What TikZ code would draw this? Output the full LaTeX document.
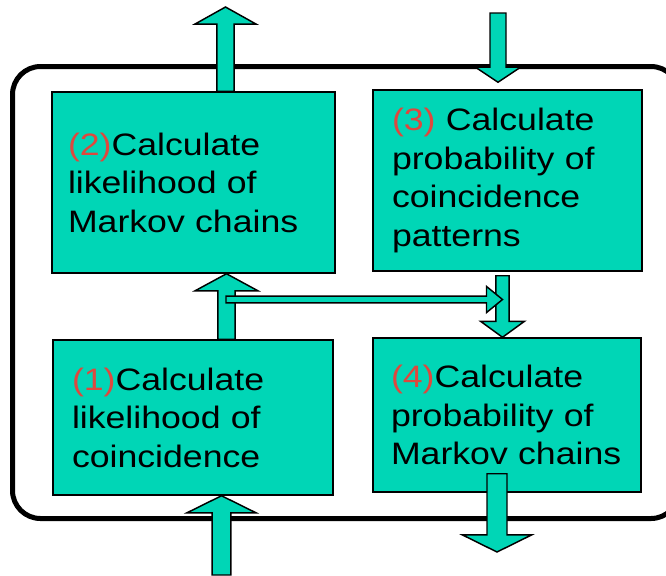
\documentclass[tikz,border=0pt]{standalone}
\usepackage{fontspec}
\setmainfont[FakeStretch=1.15]{Liberation Sans}
\usepackage{tikz}
\usetikzlibrary{calc}
\definecolor{boxteal}{RGB}{0,214,182}
\definecolor{numred}{RGB}{222,72,62}
\tikzset{
    stage/.style={draw, line width=1.1pt, fill=boxteal, align=left, inner ysep=0pt,
        font=\fontsize{23.25pt}{28.9pt}\selectfont},
    blockarrow/.style={draw, line width=1.1pt, fill=boxteal, line join=miter},
    frame/.style={draw, line width=3.75pt, rounded corners=21pt}
}
\newcommand{\stagenum}[1]{\textcolor{numred}{#1}}
\newcommand{\fatarrow}[5]{%
    \coordinate (fa-h) at ($(#2)!#5!(#1)$);
    \path[blockarrow] ($(#1)!#3!90:(#2)$) -- ($(fa-h)!#3!90:(#2)$) -- ($(fa-h)!#4!90:(#2)$)
        -- (#2) -- ($(fa-h)!#4!-90:(#2)$) -- ($(fa-h)!#3!-90:(#2)$) -- ($(#1)!#3!-90:(#2)$) -- cycle;
}

\begin{document}
\begin{tikzpicture}[x=0.75pt, y=-0.75pt]
    \useasboundingbox (0,0) rectangle (666,575);
    \clip (0,0) rectangle (666,575);
    \draw[frame] (12.5,66.5) rectangle (679,518.5);
    \node[stage, minimum width=212.25pt, minimum height=135.75pt, text width=188.25pt, inner xsep=12pt] (box2) at (193.5,182.5)
        {\stagenum{(2)}Calculate\\likelihood of\\Markov chains};
    \node[stage, minimum width=201.75pt, minimum height=135.75pt, text width=173.25pt, inner xsep=14.25pt] (box3) at (507.5,180.5)
        {\stagenum{(3)} Calculate\\probability of\\coincidence\\patterns};
    \node[stage, minimum width=210pt, minimum height=116.25pt, text width=181.5pt, inner xsep=14.25pt] (box1) at (193,417.5)
        {\stagenum{(1)}Calculate\\likelihood of\\coincidence};
    \node[stage, minimum width=201pt, minimum height=115.5pt, text width=174pt, inner xsep=13.5pt] (box4) at (507,415)
        {\stagenum{(4)}Calculate\\probability of\\Markov chains};
    \coordinate (out2) at (225.5,7);
    \coordinate (in3) at (498,13);
    \coordinate (in1) at (221.5,575);
    \coordinate (out4) at (497,552);
    \coordinate (tip3) at ($(box3.north -| in3)+(0,-7)$);
    \coordinate (l12) at ($(box1.north)+(33.5,0)$);
    \coordinate (l34) at ($(box3.south)+(-5,4)$);
    \coordinate (split) at (226,299.5);
    \coordinate (from4) at ($(box4.south)+(-10,-19)$);
    \fatarrow{box2.north -| out2}{out2}{6.4pt}{22.9pt}{12.8pt}
    \fatarrow{in3}{tip3}{6pt}{16.9pt}{11.3pt}
    \fatarrow{l12}{l12 |- box2.south}{6.4pt}{23.6pt}{12.8pt}
    \fatarrow{l34}{l34 |- box4.north}{4.9pt}{16.5pt}{12pt}
    \fatarrow{in1}{in1 |- box1.south}{7.1pt}{25.9pt}{12.8pt}
    \fatarrow{from4}{out4}{7.5pt}{25.9pt}{12.8pt}
    \fatarrow{split}{split -| l34}{2.6pt}{9.8pt}{12pt}
\end{tikzpicture}
\end{document}
